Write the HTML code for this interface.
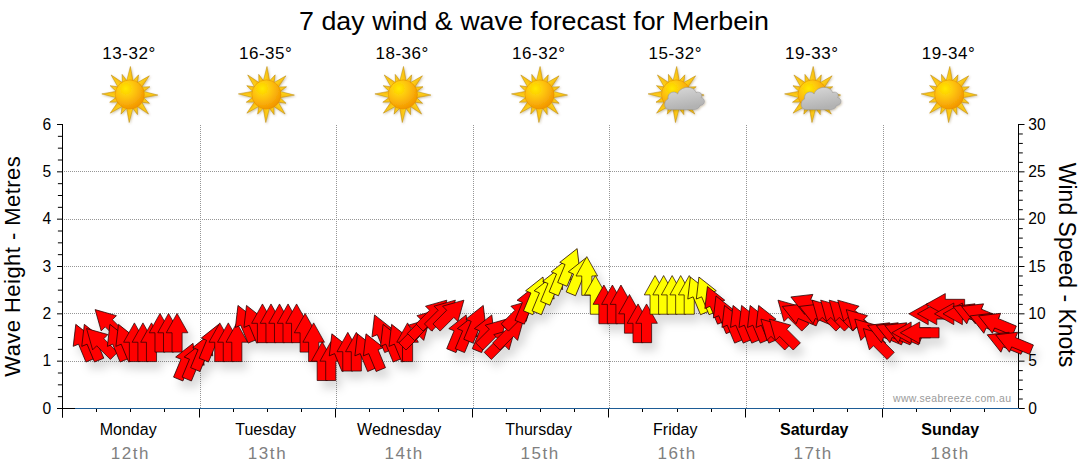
<!DOCTYPE html>
<html><head><meta charset="utf-8"><title>7 day wind &amp; wave forecast for Merbein</title>
<style>
html,body{margin:0;padding:0;background:#fff;}
body{width:1080px;height:475px;overflow:hidden;font-family:"Liberation Sans",sans-serif;}
svg{display:block;}
text{font-family:"Liberation Sans",sans-serif;}
</style></head><body>
<svg width="1080" height="475" viewBox="0 0 1080 475">
<defs>
<radialGradient id="sung" cx="0.36" cy="0.3" r="0.8">
<stop offset="0" stop-color="#ffe800"/><stop offset="0.45" stop-color="#fdbf0c"/><stop offset="1" stop-color="#f08c00"/>
</radialGradient>
<linearGradient id="rayg" x1="0" y1="0" x2="1" y2="0">
<stop offset="0" stop-color="#ffdc1e"/><stop offset="1" stop-color="#f7b40c"/>
</linearGradient>
<linearGradient id="cloudg" x1="0" y1="0" x2="0.3" y2="1">
<stop offset="0" stop-color="#dadada"/><stop offset="1" stop-color="#b2b2b2"/>
</linearGradient>
<filter id="sunsh" x="-30%" y="-30%" width="160%" height="160%">
<feDropShadow dx="0.8" dy="1" stdDeviation="0.8" flood-color="#6b4a00" flood-opacity="0.35"/>
</filter>
<filter id="ash" x="-5%" y="-30%" width="110%" height="170%">
<feDropShadow dx="5" dy="8" stdDeviation="4.5" flood-color="#000" flood-opacity="0.14"/>
</filter>
</defs>
<rect width="1080" height="475" fill="#fff"/>

<text x="534" y="29.5" font-size="26" text-anchor="middle" fill="#000" textLength="470" lengthAdjust="spacingAndGlyphs">7 day wind &amp; wave forecast for Merbein</text>
<text x="128.8" y="59" font-size="17" text-anchor="middle" fill="#000" textLength="53" lengthAdjust="spacing">13-32°</text>
<g transform="translate(129.8,94.5)"><g filter="url(#sunsh)"><path transform="rotate(0.0)" d="M-3.5,-12 L0.6,-28 L3.5,-12 Z" fill="url(#rayg)" stroke="#b8860b" stroke-width="0.5"/><path transform="rotate(22.5)" d="M-3.0,-12 L0.6,-21.5 L3.0,-12 Z" fill="url(#rayg)" stroke="#b8860b" stroke-width="0.5"/><path transform="rotate(45.0)" d="M-3.5,-12 L0.6,-27 L3.5,-12 Z" fill="url(#rayg)" stroke="#b8860b" stroke-width="0.5"/><path transform="rotate(67.5)" d="M-3.0,-12 L0.6,-21.5 L3.0,-12 Z" fill="url(#rayg)" stroke="#b8860b" stroke-width="0.5"/><path transform="rotate(90.0)" d="M-3.5,-12 L0.6,-28 L3.5,-12 Z" fill="url(#rayg)" stroke="#b8860b" stroke-width="0.5"/><path transform="rotate(112.5)" d="M-3.0,-12 L0.6,-21.5 L3.0,-12 Z" fill="url(#rayg)" stroke="#b8860b" stroke-width="0.5"/><path transform="rotate(135.0)" d="M-3.5,-12 L0.6,-27 L3.5,-12 Z" fill="url(#rayg)" stroke="#b8860b" stroke-width="0.5"/><path transform="rotate(157.5)" d="M-3.0,-12 L0.6,-21.5 L3.0,-12 Z" fill="url(#rayg)" stroke="#b8860b" stroke-width="0.5"/><path transform="rotate(180.0)" d="M-3.5,-12 L0.6,-28 L3.5,-12 Z" fill="url(#rayg)" stroke="#b8860b" stroke-width="0.5"/><path transform="rotate(202.5)" d="M-3.0,-12 L0.6,-21.5 L3.0,-12 Z" fill="url(#rayg)" stroke="#b8860b" stroke-width="0.5"/><path transform="rotate(225.0)" d="M-3.5,-12 L0.6,-27 L3.5,-12 Z" fill="url(#rayg)" stroke="#b8860b" stroke-width="0.5"/><path transform="rotate(247.5)" d="M-3.0,-12 L0.6,-21.5 L3.0,-12 Z" fill="url(#rayg)" stroke="#b8860b" stroke-width="0.5"/><path transform="rotate(270.0)" d="M-3.5,-12 L0.6,-28 L3.5,-12 Z" fill="url(#rayg)" stroke="#b8860b" stroke-width="0.5"/><path transform="rotate(292.5)" d="M-3.0,-12 L0.6,-21.5 L3.0,-12 Z" fill="url(#rayg)" stroke="#b8860b" stroke-width="0.5"/><path transform="rotate(315.0)" d="M-3.5,-12 L0.6,-27 L3.5,-12 Z" fill="url(#rayg)" stroke="#b8860b" stroke-width="0.5"/><path transform="rotate(337.5)" d="M-3.0,-12 L0.6,-21.5 L3.0,-12 Z" fill="url(#rayg)" stroke="#b8860b" stroke-width="0.5"/><circle r="14.6" fill="url(#sung)" stroke="#e08a00" stroke-width="0.5"/></g></g>
<text x="128.2" y="434.5" font-size="16" text-anchor="middle" fill="#000">Monday</text>
<text x="129.6" y="459" font-size="17" text-anchor="middle" fill="#808080" textLength="37.8" lengthAdjust="spacing">12th</text>
<text x="265.4" y="59" font-size="17" text-anchor="middle" fill="#000" textLength="53" lengthAdjust="spacing">16-35°</text>
<g transform="translate(266.4,94.5)"><g filter="url(#sunsh)"><path transform="rotate(0.0)" d="M-3.5,-12 L0.6,-28 L3.5,-12 Z" fill="url(#rayg)" stroke="#b8860b" stroke-width="0.5"/><path transform="rotate(22.5)" d="M-3.0,-12 L0.6,-21.5 L3.0,-12 Z" fill="url(#rayg)" stroke="#b8860b" stroke-width="0.5"/><path transform="rotate(45.0)" d="M-3.5,-12 L0.6,-27 L3.5,-12 Z" fill="url(#rayg)" stroke="#b8860b" stroke-width="0.5"/><path transform="rotate(67.5)" d="M-3.0,-12 L0.6,-21.5 L3.0,-12 Z" fill="url(#rayg)" stroke="#b8860b" stroke-width="0.5"/><path transform="rotate(90.0)" d="M-3.5,-12 L0.6,-28 L3.5,-12 Z" fill="url(#rayg)" stroke="#b8860b" stroke-width="0.5"/><path transform="rotate(112.5)" d="M-3.0,-12 L0.6,-21.5 L3.0,-12 Z" fill="url(#rayg)" stroke="#b8860b" stroke-width="0.5"/><path transform="rotate(135.0)" d="M-3.5,-12 L0.6,-27 L3.5,-12 Z" fill="url(#rayg)" stroke="#b8860b" stroke-width="0.5"/><path transform="rotate(157.5)" d="M-3.0,-12 L0.6,-21.5 L3.0,-12 Z" fill="url(#rayg)" stroke="#b8860b" stroke-width="0.5"/><path transform="rotate(180.0)" d="M-3.5,-12 L0.6,-28 L3.5,-12 Z" fill="url(#rayg)" stroke="#b8860b" stroke-width="0.5"/><path transform="rotate(202.5)" d="M-3.0,-12 L0.6,-21.5 L3.0,-12 Z" fill="url(#rayg)" stroke="#b8860b" stroke-width="0.5"/><path transform="rotate(225.0)" d="M-3.5,-12 L0.6,-27 L3.5,-12 Z" fill="url(#rayg)" stroke="#b8860b" stroke-width="0.5"/><path transform="rotate(247.5)" d="M-3.0,-12 L0.6,-21.5 L3.0,-12 Z" fill="url(#rayg)" stroke="#b8860b" stroke-width="0.5"/><path transform="rotate(270.0)" d="M-3.5,-12 L0.6,-28 L3.5,-12 Z" fill="url(#rayg)" stroke="#b8860b" stroke-width="0.5"/><path transform="rotate(292.5)" d="M-3.0,-12 L0.6,-21.5 L3.0,-12 Z" fill="url(#rayg)" stroke="#b8860b" stroke-width="0.5"/><path transform="rotate(315.0)" d="M-3.5,-12 L0.6,-27 L3.5,-12 Z" fill="url(#rayg)" stroke="#b8860b" stroke-width="0.5"/><path transform="rotate(337.5)" d="M-3.0,-12 L0.6,-21.5 L3.0,-12 Z" fill="url(#rayg)" stroke="#b8860b" stroke-width="0.5"/><circle r="14.6" fill="url(#sung)" stroke="#e08a00" stroke-width="0.5"/></g></g>
<text x="265.6" y="434.5" font-size="16" text-anchor="middle" fill="#000">Tuesday</text>
<text x="266.7" y="459" font-size="17" text-anchor="middle" fill="#808080" textLength="37.8" lengthAdjust="spacing">13th</text>
<text x="401.9" y="59" font-size="17" text-anchor="middle" fill="#000" textLength="53" lengthAdjust="spacing">18-36°</text>
<g transform="translate(402.9,94.5)"><g filter="url(#sunsh)"><path transform="rotate(0.0)" d="M-3.5,-12 L0.6,-28 L3.5,-12 Z" fill="url(#rayg)" stroke="#b8860b" stroke-width="0.5"/><path transform="rotate(22.5)" d="M-3.0,-12 L0.6,-21.5 L3.0,-12 Z" fill="url(#rayg)" stroke="#b8860b" stroke-width="0.5"/><path transform="rotate(45.0)" d="M-3.5,-12 L0.6,-27 L3.5,-12 Z" fill="url(#rayg)" stroke="#b8860b" stroke-width="0.5"/><path transform="rotate(67.5)" d="M-3.0,-12 L0.6,-21.5 L3.0,-12 Z" fill="url(#rayg)" stroke="#b8860b" stroke-width="0.5"/><path transform="rotate(90.0)" d="M-3.5,-12 L0.6,-28 L3.5,-12 Z" fill="url(#rayg)" stroke="#b8860b" stroke-width="0.5"/><path transform="rotate(112.5)" d="M-3.0,-12 L0.6,-21.5 L3.0,-12 Z" fill="url(#rayg)" stroke="#b8860b" stroke-width="0.5"/><path transform="rotate(135.0)" d="M-3.5,-12 L0.6,-27 L3.5,-12 Z" fill="url(#rayg)" stroke="#b8860b" stroke-width="0.5"/><path transform="rotate(157.5)" d="M-3.0,-12 L0.6,-21.5 L3.0,-12 Z" fill="url(#rayg)" stroke="#b8860b" stroke-width="0.5"/><path transform="rotate(180.0)" d="M-3.5,-12 L0.6,-28 L3.5,-12 Z" fill="url(#rayg)" stroke="#b8860b" stroke-width="0.5"/><path transform="rotate(202.5)" d="M-3.0,-12 L0.6,-21.5 L3.0,-12 Z" fill="url(#rayg)" stroke="#b8860b" stroke-width="0.5"/><path transform="rotate(225.0)" d="M-3.5,-12 L0.6,-27 L3.5,-12 Z" fill="url(#rayg)" stroke="#b8860b" stroke-width="0.5"/><path transform="rotate(247.5)" d="M-3.0,-12 L0.6,-21.5 L3.0,-12 Z" fill="url(#rayg)" stroke="#b8860b" stroke-width="0.5"/><path transform="rotate(270.0)" d="M-3.5,-12 L0.6,-28 L3.5,-12 Z" fill="url(#rayg)" stroke="#b8860b" stroke-width="0.5"/><path transform="rotate(292.5)" d="M-3.0,-12 L0.6,-21.5 L3.0,-12 Z" fill="url(#rayg)" stroke="#b8860b" stroke-width="0.5"/><path transform="rotate(315.0)" d="M-3.5,-12 L0.6,-27 L3.5,-12 Z" fill="url(#rayg)" stroke="#b8860b" stroke-width="0.5"/><path transform="rotate(337.5)" d="M-3.0,-12 L0.6,-21.5 L3.0,-12 Z" fill="url(#rayg)" stroke="#b8860b" stroke-width="0.5"/><circle r="14.6" fill="url(#sung)" stroke="#e08a00" stroke-width="0.5"/></g></g>
<text x="399.2" y="434.5" font-size="16" text-anchor="middle" fill="#000">Wednesday</text>
<text x="403.3" y="459" font-size="17" text-anchor="middle" fill="#808080" textLength="37.8" lengthAdjust="spacing">14th</text>
<text x="538.5" y="59" font-size="17" text-anchor="middle" fill="#000" textLength="53" lengthAdjust="spacing">16-32°</text>
<g transform="translate(539.5,94.5)"><g filter="url(#sunsh)"><path transform="rotate(0.0)" d="M-3.5,-12 L0.6,-28 L3.5,-12 Z" fill="url(#rayg)" stroke="#b8860b" stroke-width="0.5"/><path transform="rotate(22.5)" d="M-3.0,-12 L0.6,-21.5 L3.0,-12 Z" fill="url(#rayg)" stroke="#b8860b" stroke-width="0.5"/><path transform="rotate(45.0)" d="M-3.5,-12 L0.6,-27 L3.5,-12 Z" fill="url(#rayg)" stroke="#b8860b" stroke-width="0.5"/><path transform="rotate(67.5)" d="M-3.0,-12 L0.6,-21.5 L3.0,-12 Z" fill="url(#rayg)" stroke="#b8860b" stroke-width="0.5"/><path transform="rotate(90.0)" d="M-3.5,-12 L0.6,-28 L3.5,-12 Z" fill="url(#rayg)" stroke="#b8860b" stroke-width="0.5"/><path transform="rotate(112.5)" d="M-3.0,-12 L0.6,-21.5 L3.0,-12 Z" fill="url(#rayg)" stroke="#b8860b" stroke-width="0.5"/><path transform="rotate(135.0)" d="M-3.5,-12 L0.6,-27 L3.5,-12 Z" fill="url(#rayg)" stroke="#b8860b" stroke-width="0.5"/><path transform="rotate(157.5)" d="M-3.0,-12 L0.6,-21.5 L3.0,-12 Z" fill="url(#rayg)" stroke="#b8860b" stroke-width="0.5"/><path transform="rotate(180.0)" d="M-3.5,-12 L0.6,-28 L3.5,-12 Z" fill="url(#rayg)" stroke="#b8860b" stroke-width="0.5"/><path transform="rotate(202.5)" d="M-3.0,-12 L0.6,-21.5 L3.0,-12 Z" fill="url(#rayg)" stroke="#b8860b" stroke-width="0.5"/><path transform="rotate(225.0)" d="M-3.5,-12 L0.6,-27 L3.5,-12 Z" fill="url(#rayg)" stroke="#b8860b" stroke-width="0.5"/><path transform="rotate(247.5)" d="M-3.0,-12 L0.6,-21.5 L3.0,-12 Z" fill="url(#rayg)" stroke="#b8860b" stroke-width="0.5"/><path transform="rotate(270.0)" d="M-3.5,-12 L0.6,-28 L3.5,-12 Z" fill="url(#rayg)" stroke="#b8860b" stroke-width="0.5"/><path transform="rotate(292.5)" d="M-3.0,-12 L0.6,-21.5 L3.0,-12 Z" fill="url(#rayg)" stroke="#b8860b" stroke-width="0.5"/><path transform="rotate(315.0)" d="M-3.5,-12 L0.6,-27 L3.5,-12 Z" fill="url(#rayg)" stroke="#b8860b" stroke-width="0.5"/><path transform="rotate(337.5)" d="M-3.0,-12 L0.6,-21.5 L3.0,-12 Z" fill="url(#rayg)" stroke="#b8860b" stroke-width="0.5"/><circle r="14.6" fill="url(#sung)" stroke="#e08a00" stroke-width="0.5"/></g></g>
<text x="538.6" y="434.5" font-size="16" text-anchor="middle" fill="#000">Thursday</text>
<text x="539.3" y="459" font-size="17" text-anchor="middle" fill="#808080" textLength="37.8" lengthAdjust="spacing">15th</text>
<text x="675.1" y="59" font-size="17" text-anchor="middle" fill="#000" textLength="53" lengthAdjust="spacing">15-32°</text>
<g transform="translate(676.1,94.5)"><g filter="url(#sunsh)"><path transform="rotate(0.0)" d="M-3.5,-12 L0.6,-28 L3.5,-12 Z" fill="url(#rayg)" stroke="#b8860b" stroke-width="0.5"/><path transform="rotate(22.5)" d="M-3.0,-12 L0.6,-21.5 L3.0,-12 Z" fill="url(#rayg)" stroke="#b8860b" stroke-width="0.5"/><path transform="rotate(45.0)" d="M-3.5,-12 L0.6,-27 L3.5,-12 Z" fill="url(#rayg)" stroke="#b8860b" stroke-width="0.5"/><path transform="rotate(67.5)" d="M-3.0,-12 L0.6,-21.5 L3.0,-12 Z" fill="url(#rayg)" stroke="#b8860b" stroke-width="0.5"/><path transform="rotate(90.0)" d="M-3.5,-12 L0.6,-28 L3.5,-12 Z" fill="url(#rayg)" stroke="#b8860b" stroke-width="0.5"/><path transform="rotate(112.5)" d="M-3.0,-12 L0.6,-21.5 L3.0,-12 Z" fill="url(#rayg)" stroke="#b8860b" stroke-width="0.5"/><path transform="rotate(135.0)" d="M-3.5,-12 L0.6,-27 L3.5,-12 Z" fill="url(#rayg)" stroke="#b8860b" stroke-width="0.5"/><path transform="rotate(157.5)" d="M-3.0,-12 L0.6,-21.5 L3.0,-12 Z" fill="url(#rayg)" stroke="#b8860b" stroke-width="0.5"/><path transform="rotate(180.0)" d="M-3.5,-12 L0.6,-28 L3.5,-12 Z" fill="url(#rayg)" stroke="#b8860b" stroke-width="0.5"/><path transform="rotate(202.5)" d="M-3.0,-12 L0.6,-21.5 L3.0,-12 Z" fill="url(#rayg)" stroke="#b8860b" stroke-width="0.5"/><path transform="rotate(225.0)" d="M-3.5,-12 L0.6,-27 L3.5,-12 Z" fill="url(#rayg)" stroke="#b8860b" stroke-width="0.5"/><path transform="rotate(247.5)" d="M-3.0,-12 L0.6,-21.5 L3.0,-12 Z" fill="url(#rayg)" stroke="#b8860b" stroke-width="0.5"/><path transform="rotate(270.0)" d="M-3.5,-12 L0.6,-28 L3.5,-12 Z" fill="url(#rayg)" stroke="#b8860b" stroke-width="0.5"/><path transform="rotate(292.5)" d="M-3.0,-12 L0.6,-21.5 L3.0,-12 Z" fill="url(#rayg)" stroke="#b8860b" stroke-width="0.5"/><path transform="rotate(315.0)" d="M-3.5,-12 L0.6,-27 L3.5,-12 Z" fill="url(#rayg)" stroke="#b8860b" stroke-width="0.5"/><path transform="rotate(337.5)" d="M-3.0,-12 L0.6,-21.5 L3.0,-12 Z" fill="url(#rayg)" stroke="#b8860b" stroke-width="0.5"/><circle r="14.6" fill="url(#sung)" stroke="#e08a00" stroke-width="0.5"/></g><g filter="url(#sunsh)"><path d="M-6.5,15 C-12.5,15 -13,6.5 -8,4.5 C-9,-2 -1.5,-4.5 1.5,-0.5 C4,-8.5 17,-9.5 20,-2 C24,-3.5 27,0 25,3 C29.5,4 29.5,10.5 24,11 C23,14 20,15 18,15 Z" fill="url(#cloudg)" stroke="#9a9a9a" stroke-width="0.6"/></g></g>
<text x="675.3" y="434.5" font-size="16" text-anchor="middle" fill="#000">Friday</text>
<text x="676.3" y="459" font-size="17" text-anchor="middle" fill="#808080" textLength="37.8" lengthAdjust="spacing">16th</text>
<text x="811.6" y="59" font-size="17" text-anchor="middle" fill="#000" textLength="53" lengthAdjust="spacing">19-33°</text>
<g transform="translate(812.6,94.5)"><g filter="url(#sunsh)"><path transform="rotate(0.0)" d="M-3.5,-12 L0.6,-28 L3.5,-12 Z" fill="url(#rayg)" stroke="#b8860b" stroke-width="0.5"/><path transform="rotate(22.5)" d="M-3.0,-12 L0.6,-21.5 L3.0,-12 Z" fill="url(#rayg)" stroke="#b8860b" stroke-width="0.5"/><path transform="rotate(45.0)" d="M-3.5,-12 L0.6,-27 L3.5,-12 Z" fill="url(#rayg)" stroke="#b8860b" stroke-width="0.5"/><path transform="rotate(67.5)" d="M-3.0,-12 L0.6,-21.5 L3.0,-12 Z" fill="url(#rayg)" stroke="#b8860b" stroke-width="0.5"/><path transform="rotate(90.0)" d="M-3.5,-12 L0.6,-28 L3.5,-12 Z" fill="url(#rayg)" stroke="#b8860b" stroke-width="0.5"/><path transform="rotate(112.5)" d="M-3.0,-12 L0.6,-21.5 L3.0,-12 Z" fill="url(#rayg)" stroke="#b8860b" stroke-width="0.5"/><path transform="rotate(135.0)" d="M-3.5,-12 L0.6,-27 L3.5,-12 Z" fill="url(#rayg)" stroke="#b8860b" stroke-width="0.5"/><path transform="rotate(157.5)" d="M-3.0,-12 L0.6,-21.5 L3.0,-12 Z" fill="url(#rayg)" stroke="#b8860b" stroke-width="0.5"/><path transform="rotate(180.0)" d="M-3.5,-12 L0.6,-28 L3.5,-12 Z" fill="url(#rayg)" stroke="#b8860b" stroke-width="0.5"/><path transform="rotate(202.5)" d="M-3.0,-12 L0.6,-21.5 L3.0,-12 Z" fill="url(#rayg)" stroke="#b8860b" stroke-width="0.5"/><path transform="rotate(225.0)" d="M-3.5,-12 L0.6,-27 L3.5,-12 Z" fill="url(#rayg)" stroke="#b8860b" stroke-width="0.5"/><path transform="rotate(247.5)" d="M-3.0,-12 L0.6,-21.5 L3.0,-12 Z" fill="url(#rayg)" stroke="#b8860b" stroke-width="0.5"/><path transform="rotate(270.0)" d="M-3.5,-12 L0.6,-28 L3.5,-12 Z" fill="url(#rayg)" stroke="#b8860b" stroke-width="0.5"/><path transform="rotate(292.5)" d="M-3.0,-12 L0.6,-21.5 L3.0,-12 Z" fill="url(#rayg)" stroke="#b8860b" stroke-width="0.5"/><path transform="rotate(315.0)" d="M-3.5,-12 L0.6,-27 L3.5,-12 Z" fill="url(#rayg)" stroke="#b8860b" stroke-width="0.5"/><path transform="rotate(337.5)" d="M-3.0,-12 L0.6,-21.5 L3.0,-12 Z" fill="url(#rayg)" stroke="#b8860b" stroke-width="0.5"/><circle r="14.6" fill="url(#sung)" stroke="#e08a00" stroke-width="0.5"/></g><g filter="url(#sunsh)"><path d="M-6.5,15 C-12.5,15 -13,6.5 -8,4.5 C-9,-2 -1.5,-4.5 1.5,-0.5 C4,-8.5 17,-9.5 20,-2 C24,-3.5 27,0 25,3 C29.5,4 29.5,10.5 24,11 C23,14 20,15 18,15 Z" fill="url(#cloudg)" stroke="#9a9a9a" stroke-width="0.6"/></g></g>
<text x="814.2" y="434.5" font-size="16" text-anchor="middle" fill="#000" font-weight="bold">Saturday</text>
<text x="812.4" y="459" font-size="17" text-anchor="middle" fill="#808080" textLength="37.8" lengthAdjust="spacing">17th</text>
<text x="948.2" y="59" font-size="17" text-anchor="middle" fill="#000" textLength="53" lengthAdjust="spacing">19-34°</text>
<g transform="translate(949.2,94.5)"><g filter="url(#sunsh)"><path transform="rotate(0.0)" d="M-3.5,-12 L0.6,-28 L3.5,-12 Z" fill="url(#rayg)" stroke="#b8860b" stroke-width="0.5"/><path transform="rotate(22.5)" d="M-3.0,-12 L0.6,-21.5 L3.0,-12 Z" fill="url(#rayg)" stroke="#b8860b" stroke-width="0.5"/><path transform="rotate(45.0)" d="M-3.5,-12 L0.6,-27 L3.5,-12 Z" fill="url(#rayg)" stroke="#b8860b" stroke-width="0.5"/><path transform="rotate(67.5)" d="M-3.0,-12 L0.6,-21.5 L3.0,-12 Z" fill="url(#rayg)" stroke="#b8860b" stroke-width="0.5"/><path transform="rotate(90.0)" d="M-3.5,-12 L0.6,-28 L3.5,-12 Z" fill="url(#rayg)" stroke="#b8860b" stroke-width="0.5"/><path transform="rotate(112.5)" d="M-3.0,-12 L0.6,-21.5 L3.0,-12 Z" fill="url(#rayg)" stroke="#b8860b" stroke-width="0.5"/><path transform="rotate(135.0)" d="M-3.5,-12 L0.6,-27 L3.5,-12 Z" fill="url(#rayg)" stroke="#b8860b" stroke-width="0.5"/><path transform="rotate(157.5)" d="M-3.0,-12 L0.6,-21.5 L3.0,-12 Z" fill="url(#rayg)" stroke="#b8860b" stroke-width="0.5"/><path transform="rotate(180.0)" d="M-3.5,-12 L0.6,-28 L3.5,-12 Z" fill="url(#rayg)" stroke="#b8860b" stroke-width="0.5"/><path transform="rotate(202.5)" d="M-3.0,-12 L0.6,-21.5 L3.0,-12 Z" fill="url(#rayg)" stroke="#b8860b" stroke-width="0.5"/><path transform="rotate(225.0)" d="M-3.5,-12 L0.6,-27 L3.5,-12 Z" fill="url(#rayg)" stroke="#b8860b" stroke-width="0.5"/><path transform="rotate(247.5)" d="M-3.0,-12 L0.6,-21.5 L3.0,-12 Z" fill="url(#rayg)" stroke="#b8860b" stroke-width="0.5"/><path transform="rotate(270.0)" d="M-3.5,-12 L0.6,-28 L3.5,-12 Z" fill="url(#rayg)" stroke="#b8860b" stroke-width="0.5"/><path transform="rotate(292.5)" d="M-3.0,-12 L0.6,-21.5 L3.0,-12 Z" fill="url(#rayg)" stroke="#b8860b" stroke-width="0.5"/><path transform="rotate(315.0)" d="M-3.5,-12 L0.6,-27 L3.5,-12 Z" fill="url(#rayg)" stroke="#b8860b" stroke-width="0.5"/><path transform="rotate(337.5)" d="M-3.0,-12 L0.6,-21.5 L3.0,-12 Z" fill="url(#rayg)" stroke="#b8860b" stroke-width="0.5"/><circle r="14.6" fill="url(#sung)" stroke="#e08a00" stroke-width="0.5"/></g></g>
<text x="950.2" y="434.5" font-size="16" text-anchor="middle" fill="#000" font-weight="bold">Sunday</text>
<text x="949.4" y="459" font-size="17" text-anchor="middle" fill="#808080" textLength="37.8" lengthAdjust="spacing">18th</text>
<g stroke="#969696" stroke-width="1" stroke-dasharray="1 1" shape-rendering="crispEdges"><line x1="63.5" x2="1018.5" y1="361.17" y2="361.17"/><line x1="63.5" x2="1018.5" y1="313.83" y2="313.83"/><line x1="63.5" x2="1018.5" y1="266.50" y2="266.50"/><line x1="63.5" x2="1018.5" y1="219.17" y2="219.17"/><line x1="63.5" x2="1018.5" y1="171.83" y2="171.83"/><line x1="200.5" x2="200.5" y1="124.5" y2="408.5"/><line x1="336.5" x2="336.5" y1="124.5" y2="408.5"/><line x1="473.5" x2="473.5" y1="124.5" y2="408.5"/><line x1="609.5" x2="609.5" y1="124.5" y2="408.5"/><line x1="746.5" x2="746.5" y1="124.5" y2="408.5"/><line x1="883.5" x2="883.5" y1="124.5" y2="408.5"/></g>
<g stroke="#000" stroke-width="1"><line x1="62.5" x2="62.5" y1="124.0" y2="417.5"/><line x1="1018.5" x2="1018.5" y1="124.0" y2="409.0"/><line x1="57.0" x2="1024.5" y1="408.5" y2="408.5"/><line x1="57.0" x2="62.5" y1="408.50" y2="408.50"/><line x1="57.9" x2="62.5" y1="396.67" y2="396.67"/><line x1="57.9" x2="62.5" y1="384.83" y2="384.83"/><line x1="57.9" x2="62.5" y1="373.00" y2="373.00"/><line x1="57.0" x2="62.5" y1="361.17" y2="361.17"/><line x1="57.9" x2="62.5" y1="349.33" y2="349.33"/><line x1="57.9" x2="62.5" y1="337.50" y2="337.50"/><line x1="57.9" x2="62.5" y1="325.67" y2="325.67"/><line x1="57.0" x2="62.5" y1="313.83" y2="313.83"/><line x1="57.9" x2="62.5" y1="302.00" y2="302.00"/><line x1="57.9" x2="62.5" y1="290.17" y2="290.17"/><line x1="57.9" x2="62.5" y1="278.33" y2="278.33"/><line x1="57.0" x2="62.5" y1="266.50" y2="266.50"/><line x1="57.9" x2="62.5" y1="254.67" y2="254.67"/><line x1="57.9" x2="62.5" y1="242.83" y2="242.83"/><line x1="57.9" x2="62.5" y1="231.00" y2="231.00"/><line x1="57.0" x2="62.5" y1="219.17" y2="219.17"/><line x1="57.9" x2="62.5" y1="207.33" y2="207.33"/><line x1="57.9" x2="62.5" y1="195.50" y2="195.50"/><line x1="57.9" x2="62.5" y1="183.67" y2="183.67"/><line x1="57.0" x2="62.5" y1="171.83" y2="171.83"/><line x1="57.9" x2="62.5" y1="160.00" y2="160.00"/><line x1="57.9" x2="62.5" y1="148.17" y2="148.17"/><line x1="57.9" x2="62.5" y1="136.33" y2="136.33"/><line x1="57.0" x2="62.5" y1="124.50" y2="124.50"/><line x1="1018.5" x2="1024.5" y1="408.50" y2="408.50"/><line x1="1018.5" x2="1022.8" y1="399.03" y2="399.03"/><line x1="1018.5" x2="1022.8" y1="389.57" y2="389.57"/><line x1="1018.5" x2="1022.8" y1="380.10" y2="380.10"/><line x1="1018.5" x2="1022.8" y1="370.63" y2="370.63"/><line x1="1018.5" x2="1024.5" y1="361.17" y2="361.17"/><line x1="1018.5" x2="1022.8" y1="351.70" y2="351.70"/><line x1="1018.5" x2="1022.8" y1="342.23" y2="342.23"/><line x1="1018.5" x2="1022.8" y1="332.77" y2="332.77"/><line x1="1018.5" x2="1022.8" y1="323.30" y2="323.30"/><line x1="1018.5" x2="1024.5" y1="313.83" y2="313.83"/><line x1="1018.5" x2="1022.8" y1="304.37" y2="304.37"/><line x1="1018.5" x2="1022.8" y1="294.90" y2="294.90"/><line x1="1018.5" x2="1022.8" y1="285.43" y2="285.43"/><line x1="1018.5" x2="1022.8" y1="275.97" y2="275.97"/><line x1="1018.5" x2="1024.5" y1="266.50" y2="266.50"/><line x1="1018.5" x2="1022.8" y1="257.03" y2="257.03"/><line x1="1018.5" x2="1022.8" y1="247.57" y2="247.57"/><line x1="1018.5" x2="1022.8" y1="238.10" y2="238.10"/><line x1="1018.5" x2="1022.8" y1="228.63" y2="228.63"/><line x1="1018.5" x2="1024.5" y1="219.17" y2="219.17"/><line x1="1018.5" x2="1022.8" y1="209.70" y2="209.70"/><line x1="1018.5" x2="1022.8" y1="200.23" y2="200.23"/><line x1="1018.5" x2="1022.8" y1="190.77" y2="190.77"/><line x1="1018.5" x2="1022.8" y1="181.30" y2="181.30"/><line x1="1018.5" x2="1024.5" y1="171.83" y2="171.83"/><line x1="1018.5" x2="1022.8" y1="162.37" y2="162.37"/><line x1="1018.5" x2="1022.8" y1="152.90" y2="152.90"/><line x1="1018.5" x2="1022.8" y1="143.43" y2="143.43"/><line x1="1018.5" x2="1022.8" y1="133.97" y2="133.97"/><line x1="1018.5" x2="1024.5" y1="124.50" y2="124.50"/><line x1="62.5" x2="62.5" y1="408.5" y2="417.5"/><line x1="96.5" x2="96.5" y1="408.5" y2="412.0"/><line x1="130.5" x2="130.5" y1="408.5" y2="412.0"/><line x1="164.5" x2="164.5" y1="408.5" y2="412.0"/><line x1="199.5" x2="199.5" y1="408.5" y2="417.5"/><line x1="233.5" x2="233.5" y1="408.5" y2="412.0"/><line x1="267.5" x2="267.5" y1="408.5" y2="412.0"/><line x1="301.5" x2="301.5" y1="408.5" y2="412.0"/><line x1="335.5" x2="335.5" y1="408.5" y2="417.5"/><line x1="369.5" x2="369.5" y1="408.5" y2="412.0"/><line x1="403.5" x2="403.5" y1="408.5" y2="412.0"/><line x1="438.5" x2="438.5" y1="408.5" y2="412.0"/><line x1="472.5" x2="472.5" y1="408.5" y2="417.5"/><line x1="506.5" x2="506.5" y1="408.5" y2="412.0"/><line x1="540.5" x2="540.5" y1="408.5" y2="412.0"/><line x1="574.5" x2="574.5" y1="408.5" y2="412.0"/><line x1="608.5" x2="608.5" y1="408.5" y2="417.5"/><line x1="642.5" x2="642.5" y1="408.5" y2="412.0"/><line x1="677.5" x2="677.5" y1="408.5" y2="412.0"/><line x1="711.5" x2="711.5" y1="408.5" y2="412.0"/><line x1="745.5" x2="745.5" y1="408.5" y2="417.5"/><line x1="779.5" x2="779.5" y1="408.5" y2="412.0"/><line x1="813.5" x2="813.5" y1="408.5" y2="412.0"/><line x1="847.5" x2="847.5" y1="408.5" y2="412.0"/><line x1="882.5" x2="882.5" y1="408.5" y2="417.5"/><line x1="916.5" x2="916.5" y1="408.5" y2="412.0"/><line x1="950.5" x2="950.5" y1="408.5" y2="412.0"/><line x1="984.5" x2="984.5" y1="408.5" y2="412.0"/></g>
<text x="51.3" y="413.6" font-size="15.6" text-anchor="end">0</text>
<text x="51.3" y="366.3" font-size="15.6" text-anchor="end">1</text>
<text x="51.3" y="318.9" font-size="15.6" text-anchor="end">2</text>
<text x="51.3" y="271.6" font-size="15.6" text-anchor="end">3</text>
<text x="51.3" y="224.3" font-size="15.6" text-anchor="end">4</text>
<text x="51.3" y="176.9" font-size="15.6" text-anchor="end">5</text>
<text x="51.3" y="129.6" font-size="15.6" text-anchor="end">6</text>
<text x="1028.3" y="413.6" font-size="15.6">0</text>
<text x="1028.3" y="366.3" font-size="15.6">5</text>
<text x="1028.3" y="318.9" font-size="15.6">10</text>
<text x="1028.3" y="271.6" font-size="15.6">15</text>
<text x="1028.3" y="224.3" font-size="15.6">20</text>
<text x="1028.3" y="176.9" font-size="15.6">25</text>
<text x="1028.3" y="129.6" font-size="15.6">30</text>
<text transform="translate(19.7,266.5) rotate(-90)" font-size="22" text-anchor="middle" textLength="220.5" lengthAdjust="spacing">Wave Height - Metres</text>
<text transform="translate(1059,265) rotate(90)" font-size="23" text-anchor="middle" textLength="204.5" lengthAdjust="spacing">Wind Speed - Knots</text>
<line x1="75" x2="1018.5" y1="408.5" y2="408.5" stroke="#1d5c96" stroke-width="1" shape-rendering="crispEdges"/>
<text x="1011" y="401.5" font-size="10.5" text-anchor="end" fill="#9a9a9a" textLength="118" lengthAdjust="spacing">www.seabreeze.com.au</text>
<g filter="url(#ash)" stroke="#200000" stroke-width="0.7" stroke-linejoin="miter"><path d="M0,-19.35 L10.8,0 L5.05,0 L5.05,19.35 L-5.05,19.35 L-5.05,0 L-10.8,0 Z" transform="translate(83.20,342.23) rotate(-22.5)" fill="#ff0000"/><path d="M0,-19.35 L10.8,0 L5.05,0 L5.05,19.35 L-5.05,19.35 L-5.05,0 L-10.8,0 Z" transform="translate(91.74,342.23) rotate(-22.5)" fill="#ff0000"/><path d="M0,-19.35 L10.8,0 L5.05,0 L5.05,19.35 L-5.05,19.35 L-5.05,0 L-10.8,0 Z" transform="translate(100.27,342.23) rotate(-45)" fill="#ff0000"/><path d="M0,-19.35 L10.8,0 L5.05,0 L5.05,19.35 L-5.05,19.35 L-5.05,0 L-10.8,0 Z" transform="translate(108.81,323.30) rotate(-45)" fill="#ff0000"/><path d="M0,-19.35 L10.8,0 L5.05,0 L5.05,19.35 L-5.05,19.35 L-5.05,0 L-10.8,0 Z" transform="translate(117.34,342.23) rotate(-22.5)" fill="#ff0000"/><path d="M0,-19.35 L10.8,0 L5.05,0 L5.05,19.35 L-5.05,19.35 L-5.05,0 L-10.8,0 Z" transform="translate(125.88,342.23) rotate(-22.5)" fill="#ff0000"/><path d="M0,-19.35 L10.8,0 L5.05,0 L5.05,19.35 L-5.05,19.35 L-5.05,0 L-10.8,0 Z" transform="translate(134.41,342.23) rotate(0)" fill="#ff0000"/><path d="M0,-19.35 L10.8,0 L5.05,0 L5.05,19.35 L-5.05,19.35 L-5.05,0 L-10.8,0 Z" transform="translate(142.95,342.23) rotate(0)" fill="#ff0000"/><path d="M0,-19.35 L10.8,0 L5.05,0 L5.05,19.35 L-5.05,19.35 L-5.05,0 L-10.8,0 Z" transform="translate(151.49,342.23) rotate(0)" fill="#ff0000"/><path d="M0,-19.35 L10.8,0 L5.05,0 L5.05,19.35 L-5.05,19.35 L-5.05,0 L-10.8,0 Z" transform="translate(160.02,332.77) rotate(0)" fill="#ff0000"/><path d="M0,-19.35 L10.8,0 L5.05,0 L5.05,19.35 L-5.05,19.35 L-5.05,0 L-10.8,0 Z" transform="translate(168.56,332.77) rotate(0)" fill="#ff0000"/><path d="M0,-19.35 L10.8,0 L5.05,0 L5.05,19.35 L-5.05,19.35 L-5.05,0 L-10.8,0 Z" transform="translate(177.09,332.77) rotate(0)" fill="#ff0000"/><path d="M0,-19.35 L10.8,0 L5.05,0 L5.05,19.35 L-5.05,19.35 L-5.05,0 L-10.8,0 Z" transform="translate(185.63,361.17) rotate(22.5)" fill="#ff0000"/><path d="M0,-19.35 L10.8,0 L5.05,0 L5.05,19.35 L-5.05,19.35 L-5.05,0 L-10.8,0 Z" transform="translate(194.16,361.17) rotate(22.5)" fill="#ff0000"/><path d="M0,-19.35 L10.8,0 L5.05,0 L5.05,19.35 L-5.05,19.35 L-5.05,0 L-10.8,0 Z" transform="translate(202.70,351.70) rotate(22.5)" fill="#ff0000"/><path d="M0,-19.35 L10.8,0 L5.05,0 L5.05,19.35 L-5.05,19.35 L-5.05,0 L-10.8,0 Z" transform="translate(211.24,342.23) rotate(22.5)" fill="#ff0000"/><path d="M0,-19.35 L10.8,0 L5.05,0 L5.05,19.35 L-5.05,19.35 L-5.05,0 L-10.8,0 Z" transform="translate(219.77,342.23) rotate(0)" fill="#ff0000"/><path d="M0,-19.35 L10.8,0 L5.05,0 L5.05,19.35 L-5.05,19.35 L-5.05,0 L-10.8,0 Z" transform="translate(228.31,342.23) rotate(0)" fill="#ff0000"/><path d="M0,-19.35 L10.8,0 L5.05,0 L5.05,19.35 L-5.05,19.35 L-5.05,0 L-10.8,0 Z" transform="translate(236.84,342.23) rotate(0)" fill="#ff0000"/><path d="M0,-19.35 L10.8,0 L5.05,0 L5.05,19.35 L-5.05,19.35 L-5.05,0 L-10.8,0 Z" transform="translate(245.38,323.30) rotate(-22.5)" fill="#ff0000"/><path d="M0,-19.35 L10.8,0 L5.05,0 L5.05,19.35 L-5.05,19.35 L-5.05,0 L-10.8,0 Z" transform="translate(253.91,323.30) rotate(-22.5)" fill="#ff0000"/><path d="M0,-19.35 L10.8,0 L5.05,0 L5.05,19.35 L-5.05,19.35 L-5.05,0 L-10.8,0 Z" transform="translate(262.45,323.30) rotate(0)" fill="#ff0000"/><path d="M0,-19.35 L10.8,0 L5.05,0 L5.05,19.35 L-5.05,19.35 L-5.05,0 L-10.8,0 Z" transform="translate(270.99,323.30) rotate(0)" fill="#ff0000"/><path d="M0,-19.35 L10.8,0 L5.05,0 L5.05,19.35 L-5.05,19.35 L-5.05,0 L-10.8,0 Z" transform="translate(279.52,323.30) rotate(0)" fill="#ff0000"/><path d="M0,-19.35 L10.8,0 L5.05,0 L5.05,19.35 L-5.05,19.35 L-5.05,0 L-10.8,0 Z" transform="translate(288.06,323.30) rotate(0)" fill="#ff0000"/><path d="M0,-19.35 L10.8,0 L5.05,0 L5.05,19.35 L-5.05,19.35 L-5.05,0 L-10.8,0 Z" transform="translate(296.59,323.30) rotate(0)" fill="#ff0000"/><path d="M0,-19.35 L10.8,0 L5.05,0 L5.05,19.35 L-5.05,19.35 L-5.05,0 L-10.8,0 Z" transform="translate(305.13,332.77) rotate(0)" fill="#ff0000"/><path d="M0,-19.35 L10.8,0 L5.05,0 L5.05,19.35 L-5.05,19.35 L-5.05,0 L-10.8,0 Z" transform="translate(313.66,342.23) rotate(0)" fill="#ff0000"/><path d="M0,-19.35 L10.8,0 L5.05,0 L5.05,19.35 L-5.05,19.35 L-5.05,0 L-10.8,0 Z" transform="translate(322.20,361.17) rotate(0)" fill="#ff0000"/><path d="M0,-19.35 L10.8,0 L5.05,0 L5.05,19.35 L-5.05,19.35 L-5.05,0 L-10.8,0 Z" transform="translate(330.74,361.17) rotate(0)" fill="#ff0000"/><path d="M0,-19.35 L10.8,0 L5.05,0 L5.05,19.35 L-5.05,19.35 L-5.05,0 L-10.8,0 Z" transform="translate(339.27,351.70) rotate(-22.5)" fill="#ff0000"/><path d="M0,-19.35 L10.8,0 L5.05,0 L5.05,19.35 L-5.05,19.35 L-5.05,0 L-10.8,0 Z" transform="translate(347.81,351.70) rotate(0)" fill="#ff0000"/><path d="M0,-19.35 L10.8,0 L5.05,0 L5.05,19.35 L-5.05,19.35 L-5.05,0 L-10.8,0 Z" transform="translate(356.34,351.70) rotate(0)" fill="#ff0000"/><path d="M0,-19.35 L10.8,0 L5.05,0 L5.05,19.35 L-5.05,19.35 L-5.05,0 L-10.8,0 Z" transform="translate(364.88,351.70) rotate(-22.5)" fill="#ff0000"/><path d="M0,-19.35 L10.8,0 L5.05,0 L5.05,19.35 L-5.05,19.35 L-5.05,0 L-10.8,0 Z" transform="translate(373.41,351.70) rotate(-22.5)" fill="#ff0000"/><path d="M0,-19.35 L10.8,0 L5.05,0 L5.05,19.35 L-5.05,19.35 L-5.05,0 L-10.8,0 Z" transform="translate(381.95,332.77) rotate(-22.5)" fill="#ff0000"/><path d="M0,-19.35 L10.8,0 L5.05,0 L5.05,19.35 L-5.05,19.35 L-5.05,0 L-10.8,0 Z" transform="translate(390.49,342.23) rotate(-22.5)" fill="#ff0000"/><path d="M0,-19.35 L10.8,0 L5.05,0 L5.05,19.35 L-5.05,19.35 L-5.05,0 L-10.8,0 Z" transform="translate(399.02,342.23) rotate(-22.5)" fill="#ff0000"/><path d="M0,-19.35 L10.8,0 L5.05,0 L5.05,19.35 L-5.05,19.35 L-5.05,0 L-10.8,0 Z" transform="translate(407.56,342.23) rotate(0)" fill="#ff0000"/><path d="M0,-19.35 L10.8,0 L5.05,0 L5.05,19.35 L-5.05,19.35 L-5.05,0 L-10.8,0 Z" transform="translate(416.09,332.77) rotate(45)" fill="#ff0000"/><path d="M0,-19.35 L10.8,0 L5.05,0 L5.05,19.35 L-5.05,19.35 L-5.05,0 L-10.8,0 Z" transform="translate(424.63,323.30) rotate(45)" fill="#ff0000"/><path d="M0,-19.35 L10.8,0 L5.05,0 L5.05,19.35 L-5.05,19.35 L-5.05,0 L-10.8,0 Z" transform="translate(433.16,313.83) rotate(45)" fill="#ff0000"/><path d="M0,-19.35 L10.8,0 L5.05,0 L5.05,19.35 L-5.05,19.35 L-5.05,0 L-10.8,0 Z" transform="translate(441.70,313.83) rotate(45)" fill="#ff0000"/><path d="M0,-19.35 L10.8,0 L5.05,0 L5.05,19.35 L-5.05,19.35 L-5.05,0 L-10.8,0 Z" transform="translate(450.24,313.83) rotate(45)" fill="#ff0000"/><path d="M0,-19.35 L10.8,0 L5.05,0 L5.05,19.35 L-5.05,19.35 L-5.05,0 L-10.8,0 Z" transform="translate(458.77,332.77) rotate(22.5)" fill="#ff0000"/><path d="M0,-19.35 L10.8,0 L5.05,0 L5.05,19.35 L-5.05,19.35 L-5.05,0 L-10.8,0 Z" transform="translate(467.31,332.77) rotate(22.5)" fill="#ff0000"/><path d="M0,-19.35 L10.8,0 L5.05,0 L5.05,19.35 L-5.05,19.35 L-5.05,0 L-10.8,0 Z" transform="translate(475.84,323.30) rotate(22.5)" fill="#ff0000"/><path d="M0,-19.35 L10.8,0 L5.05,0 L5.05,19.35 L-5.05,19.35 L-5.05,0 L-10.8,0 Z" transform="translate(484.38,332.77) rotate(22.5)" fill="#ff0000"/><path d="M0,-19.35 L10.8,0 L5.05,0 L5.05,19.35 L-5.05,19.35 L-5.05,0 L-10.8,0 Z" transform="translate(492.91,332.77) rotate(45)" fill="#ff0000"/><path d="M0,-19.35 L10.8,0 L5.05,0 L5.05,19.35 L-5.05,19.35 L-5.05,0 L-10.8,0 Z" transform="translate(501.45,342.23) rotate(45)" fill="#ff0000"/><path d="M0,-19.35 L10.8,0 L5.05,0 L5.05,19.35 L-5.05,19.35 L-5.05,0 L-10.8,0 Z" transform="translate(509.99,332.77) rotate(45)" fill="#ff0000"/><path d="M0,-19.35 L10.8,0 L5.05,0 L5.05,19.35 L-5.05,19.35 L-5.05,0 L-10.8,0 Z" transform="translate(518.52,313.83) rotate(45)" fill="#ff0000"/><path d="M0,-19.35 L10.8,0 L5.05,0 L5.05,19.35 L-5.05,19.35 L-5.05,0 L-10.8,0 Z" transform="translate(527.06,304.37) rotate(22.5)" fill="#ff0000"/><path d="M0,-19.35 L10.8,0 L5.05,0 L5.05,19.35 L-5.05,19.35 L-5.05,0 L-10.8,0 Z" transform="translate(535.59,294.90) rotate(22.5)" fill="#ffff00"/><path d="M0,-19.35 L10.8,0 L5.05,0 L5.05,19.35 L-5.05,19.35 L-5.05,0 L-10.8,0 Z" transform="translate(544.13,294.90) rotate(22.5)" fill="#ffff00"/><path d="M0,-19.35 L10.8,0 L5.05,0 L5.05,19.35 L-5.05,19.35 L-5.05,0 L-10.8,0 Z" transform="translate(552.66,285.43) rotate(22.5)" fill="#ffff00"/><path d="M0,-19.35 L10.8,0 L5.05,0 L5.05,19.35 L-5.05,19.35 L-5.05,0 L-10.8,0 Z" transform="translate(561.20,275.97) rotate(22.5)" fill="#ffff00"/><path d="M0,-19.35 L10.8,0 L5.05,0 L5.05,19.35 L-5.05,19.35 L-5.05,0 L-10.8,0 Z" transform="translate(569.74,266.50) rotate(22.5)" fill="#ffff00"/><path d="M0,-19.35 L10.8,0 L5.05,0 L5.05,19.35 L-5.05,19.35 L-5.05,0 L-10.8,0 Z" transform="translate(578.27,275.97) rotate(22.5)" fill="#ffff00"/><path d="M0,-19.35 L10.8,0 L5.05,0 L5.05,19.35 L-5.05,19.35 L-5.05,0 L-10.8,0 Z" transform="translate(586.81,275.97) rotate(0)" fill="#ffff00"/><path d="M0,-19.35 L10.8,0 L5.05,0 L5.05,19.35 L-5.05,19.35 L-5.05,0 L-10.8,0 Z" transform="translate(595.34,294.90) rotate(0)" fill="#ffff00"/><path d="M0,-19.35 L10.8,0 L5.05,0 L5.05,19.35 L-5.05,19.35 L-5.05,0 L-10.8,0 Z" transform="translate(603.88,304.37) rotate(0)" fill="#ff0000"/><path d="M0,-19.35 L10.8,0 L5.05,0 L5.05,19.35 L-5.05,19.35 L-5.05,0 L-10.8,0 Z" transform="translate(612.41,304.37) rotate(0)" fill="#ff0000"/><path d="M0,-19.35 L10.8,0 L5.05,0 L5.05,19.35 L-5.05,19.35 L-5.05,0 L-10.8,0 Z" transform="translate(620.95,304.37) rotate(0)" fill="#ff0000"/><path d="M0,-19.35 L10.8,0 L5.05,0 L5.05,19.35 L-5.05,19.35 L-5.05,0 L-10.8,0 Z" transform="translate(629.49,313.83) rotate(0)" fill="#ff0000"/><path d="M0,-19.35 L10.8,0 L5.05,0 L5.05,19.35 L-5.05,19.35 L-5.05,0 L-10.8,0 Z" transform="translate(638.02,323.30) rotate(0)" fill="#ff0000"/><path d="M0,-19.35 L10.8,0 L5.05,0 L5.05,19.35 L-5.05,19.35 L-5.05,0 L-10.8,0 Z" transform="translate(646.56,323.30) rotate(0)" fill="#ff0000"/><path d="M0,-19.35 L10.8,0 L5.05,0 L5.05,19.35 L-5.05,19.35 L-5.05,0 L-10.8,0 Z" transform="translate(655.09,294.90) rotate(0)" fill="#ffff00"/><path d="M0,-19.35 L10.8,0 L5.05,0 L5.05,19.35 L-5.05,19.35 L-5.05,0 L-10.8,0 Z" transform="translate(663.63,294.90) rotate(0)" fill="#ffff00"/><path d="M0,-19.35 L10.8,0 L5.05,0 L5.05,19.35 L-5.05,19.35 L-5.05,0 L-10.8,0 Z" transform="translate(672.16,294.90) rotate(0)" fill="#ffff00"/><path d="M0,-19.35 L10.8,0 L5.05,0 L5.05,19.35 L-5.05,19.35 L-5.05,0 L-10.8,0 Z" transform="translate(680.70,294.90) rotate(0)" fill="#ffff00"/><path d="M0,-19.35 L10.8,0 L5.05,0 L5.05,19.35 L-5.05,19.35 L-5.05,0 L-10.8,0 Z" transform="translate(689.24,294.90) rotate(0)" fill="#ffff00"/><path d="M0,-19.35 L10.8,0 L5.05,0 L5.05,19.35 L-5.05,19.35 L-5.05,0 L-10.8,0 Z" transform="translate(697.77,294.90) rotate(-22.5)" fill="#ffff00"/><path d="M0,-19.35 L10.8,0 L5.05,0 L5.05,19.35 L-5.05,19.35 L-5.05,0 L-10.8,0 Z" transform="translate(706.31,294.90) rotate(-22.5)" fill="#ffff00"/><path d="M0,-19.35 L10.8,0 L5.05,0 L5.05,19.35 L-5.05,19.35 L-5.05,0 L-10.8,0 Z" transform="translate(714.84,304.37) rotate(-22.5)" fill="#ff0000"/><path d="M0,-19.35 L10.8,0 L5.05,0 L5.05,19.35 L-5.05,19.35 L-5.05,0 L-10.8,0 Z" transform="translate(723.38,313.83) rotate(-22.5)" fill="#ff0000"/><path d="M0,-19.35 L10.8,0 L5.05,0 L5.05,19.35 L-5.05,19.35 L-5.05,0 L-10.8,0 Z" transform="translate(731.91,323.30) rotate(-22.5)" fill="#ff0000"/><path d="M0,-19.35 L10.8,0 L5.05,0 L5.05,19.35 L-5.05,19.35 L-5.05,0 L-10.8,0 Z" transform="translate(740.45,323.30) rotate(-22.5)" fill="#ff0000"/><path d="M0,-19.35 L10.8,0 L5.05,0 L5.05,19.35 L-5.05,19.35 L-5.05,0 L-10.8,0 Z" transform="translate(748.99,323.30) rotate(-22.5)" fill="#ff0000"/><path d="M0,-19.35 L10.8,0 L5.05,0 L5.05,19.35 L-5.05,19.35 L-5.05,0 L-10.8,0 Z" transform="translate(757.52,323.30) rotate(-22.5)" fill="#ff0000"/><path d="M0,-19.35 L10.8,0 L5.05,0 L5.05,19.35 L-5.05,19.35 L-5.05,0 L-10.8,0 Z" transform="translate(766.06,323.30) rotate(-22.5)" fill="#ff0000"/><path d="M0,-19.35 L10.8,0 L5.05,0 L5.05,19.35 L-5.05,19.35 L-5.05,0 L-10.8,0 Z" transform="translate(774.59,332.77) rotate(-45)" fill="#ff0000"/><path d="M0,-19.35 L10.8,0 L5.05,0 L5.05,19.35 L-5.05,19.35 L-5.05,0 L-10.8,0 Z" transform="translate(783.13,332.77) rotate(-45)" fill="#ff0000"/><path d="M0,-19.35 L10.8,0 L5.05,0 L5.05,19.35 L-5.05,19.35 L-5.05,0 L-10.8,0 Z" transform="translate(791.66,313.83) rotate(-45)" fill="#ff0000"/><path d="M0,-19.35 L10.8,0 L5.05,0 L5.05,19.35 L-5.05,19.35 L-5.05,0 L-10.8,0 Z" transform="translate(800.20,313.83) rotate(-67.5)" fill="#ff0000"/><path d="M0,-19.35 L10.8,0 L5.05,0 L5.05,19.35 L-5.05,19.35 L-5.05,0 L-10.8,0 Z" transform="translate(808.74,304.37) rotate(-67.5)" fill="#ff0000"/><path d="M0,-19.35 L10.8,0 L5.05,0 L5.05,19.35 L-5.05,19.35 L-5.05,0 L-10.8,0 Z" transform="translate(817.27,313.83) rotate(-67.5)" fill="#ff0000"/><path d="M0,-19.35 L10.8,0 L5.05,0 L5.05,19.35 L-5.05,19.35 L-5.05,0 L-10.8,0 Z" transform="translate(825.81,313.83) rotate(-45)" fill="#ff0000"/><path d="M0,-19.35 L10.8,0 L5.05,0 L5.05,19.35 L-5.05,19.35 L-5.05,0 L-10.8,0 Z" transform="translate(834.34,313.83) rotate(-45)" fill="#ff0000"/><path d="M0,-19.35 L10.8,0 L5.05,0 L5.05,19.35 L-5.05,19.35 L-5.05,0 L-10.8,0 Z" transform="translate(842.88,313.83) rotate(-45)" fill="#ff0000"/><path d="M0,-19.35 L10.8,0 L5.05,0 L5.05,19.35 L-5.05,19.35 L-5.05,0 L-10.8,0 Z" transform="translate(851.41,313.83) rotate(-45)" fill="#ff0000"/><path d="M0,-19.35 L10.8,0 L5.05,0 L5.05,19.35 L-5.05,19.35 L-5.05,0 L-10.8,0 Z" transform="translate(859.95,323.30) rotate(-45)" fill="#ff0000"/><path d="M0,-19.35 L10.8,0 L5.05,0 L5.05,19.35 L-5.05,19.35 L-5.05,0 L-10.8,0 Z" transform="translate(868.49,332.77) rotate(-45)" fill="#ff0000"/><path d="M0,-19.35 L10.8,0 L5.05,0 L5.05,19.35 L-5.05,19.35 L-5.05,0 L-10.8,0 Z" transform="translate(877.02,342.23) rotate(-45)" fill="#ff0000"/><path d="M0,-19.35 L10.8,0 L5.05,0 L5.05,19.35 L-5.05,19.35 L-5.05,0 L-10.8,0 Z" transform="translate(885.56,332.77) rotate(-67.5)" fill="#ff0000"/><path d="M0,-19.35 L10.8,0 L5.05,0 L5.05,19.35 L-5.05,19.35 L-5.05,0 L-10.8,0 Z" transform="translate(894.09,332.77) rotate(-67.5)" fill="#ff0000"/><path d="M0,-19.35 L10.8,0 L5.05,0 L5.05,19.35 L-5.05,19.35 L-5.05,0 L-10.8,0 Z" transform="translate(902.63,332.77) rotate(-67.5)" fill="#ff0000"/><path d="M0,-19.35 L10.8,0 L5.05,0 L5.05,19.35 L-5.05,19.35 L-5.05,0 L-10.8,0 Z" transform="translate(911.16,332.77) rotate(-90)" fill="#ff0000"/><path d="M0,-19.35 L10.8,0 L5.05,0 L5.05,19.35 L-5.05,19.35 L-5.05,0 L-10.8,0 Z" transform="translate(919.70,332.77) rotate(-90)" fill="#ff0000"/><path d="M0,-19.35 L10.8,0 L5.05,0 L5.05,19.35 L-5.05,19.35 L-5.05,0 L-10.8,0 Z" transform="translate(928.24,313.83) rotate(-90)" fill="#ff0000"/><path d="M0,-19.35 L10.8,0 L5.05,0 L5.05,19.35 L-5.05,19.35 L-5.05,0 L-10.8,0 Z" transform="translate(936.77,313.83) rotate(-90)" fill="#ff0000"/><path d="M0,-19.35 L10.8,0 L5.05,0 L5.05,19.35 L-5.05,19.35 L-5.05,0 L-10.8,0 Z" transform="translate(945.31,304.37) rotate(-90)" fill="#ff0000"/><path d="M0,-19.35 L10.8,0 L5.05,0 L5.05,19.35 L-5.05,19.35 L-5.05,0 L-10.8,0 Z" transform="translate(953.84,313.83) rotate(-90)" fill="#ff0000"/><path d="M0,-19.35 L10.8,0 L5.05,0 L5.05,19.35 L-5.05,19.35 L-5.05,0 L-10.8,0 Z" transform="translate(962.38,313.83) rotate(-90)" fill="#ff0000"/><path d="M0,-19.35 L10.8,0 L5.05,0 L5.05,19.35 L-5.05,19.35 L-5.05,0 L-10.8,0 Z" transform="translate(970.91,313.83) rotate(-67.5)" fill="#ff0000"/><path d="M0,-19.35 L10.8,0 L5.05,0 L5.05,19.35 L-5.05,19.35 L-5.05,0 L-10.8,0 Z" transform="translate(979.45,313.83) rotate(-67.5)" fill="#ff0000"/><path d="M0,-19.35 L10.8,0 L5.05,0 L5.05,19.35 L-5.05,19.35 L-5.05,0 L-10.8,0 Z" transform="translate(987.99,323.30) rotate(-67.5)" fill="#ff0000"/><path d="M0,-19.35 L10.8,0 L5.05,0 L5.05,19.35 L-5.05,19.35 L-5.05,0 L-10.8,0 Z" transform="translate(996.52,323.30) rotate(-67.5)" fill="#ff0000"/><path d="M0,-19.35 L10.8,0 L5.05,0 L5.05,19.35 L-5.05,19.35 L-5.05,0 L-10.8,0 Z" transform="translate(1005.06,342.23) rotate(-67.5)" fill="#ff0000"/><path d="M0,-19.35 L10.8,0 L5.05,0 L5.05,19.35 L-5.05,19.35 L-5.05,0 L-10.8,0 Z" transform="translate(1013.59,342.23) rotate(-67.5)" fill="#ff0000"/></g>
</svg></body></html>
